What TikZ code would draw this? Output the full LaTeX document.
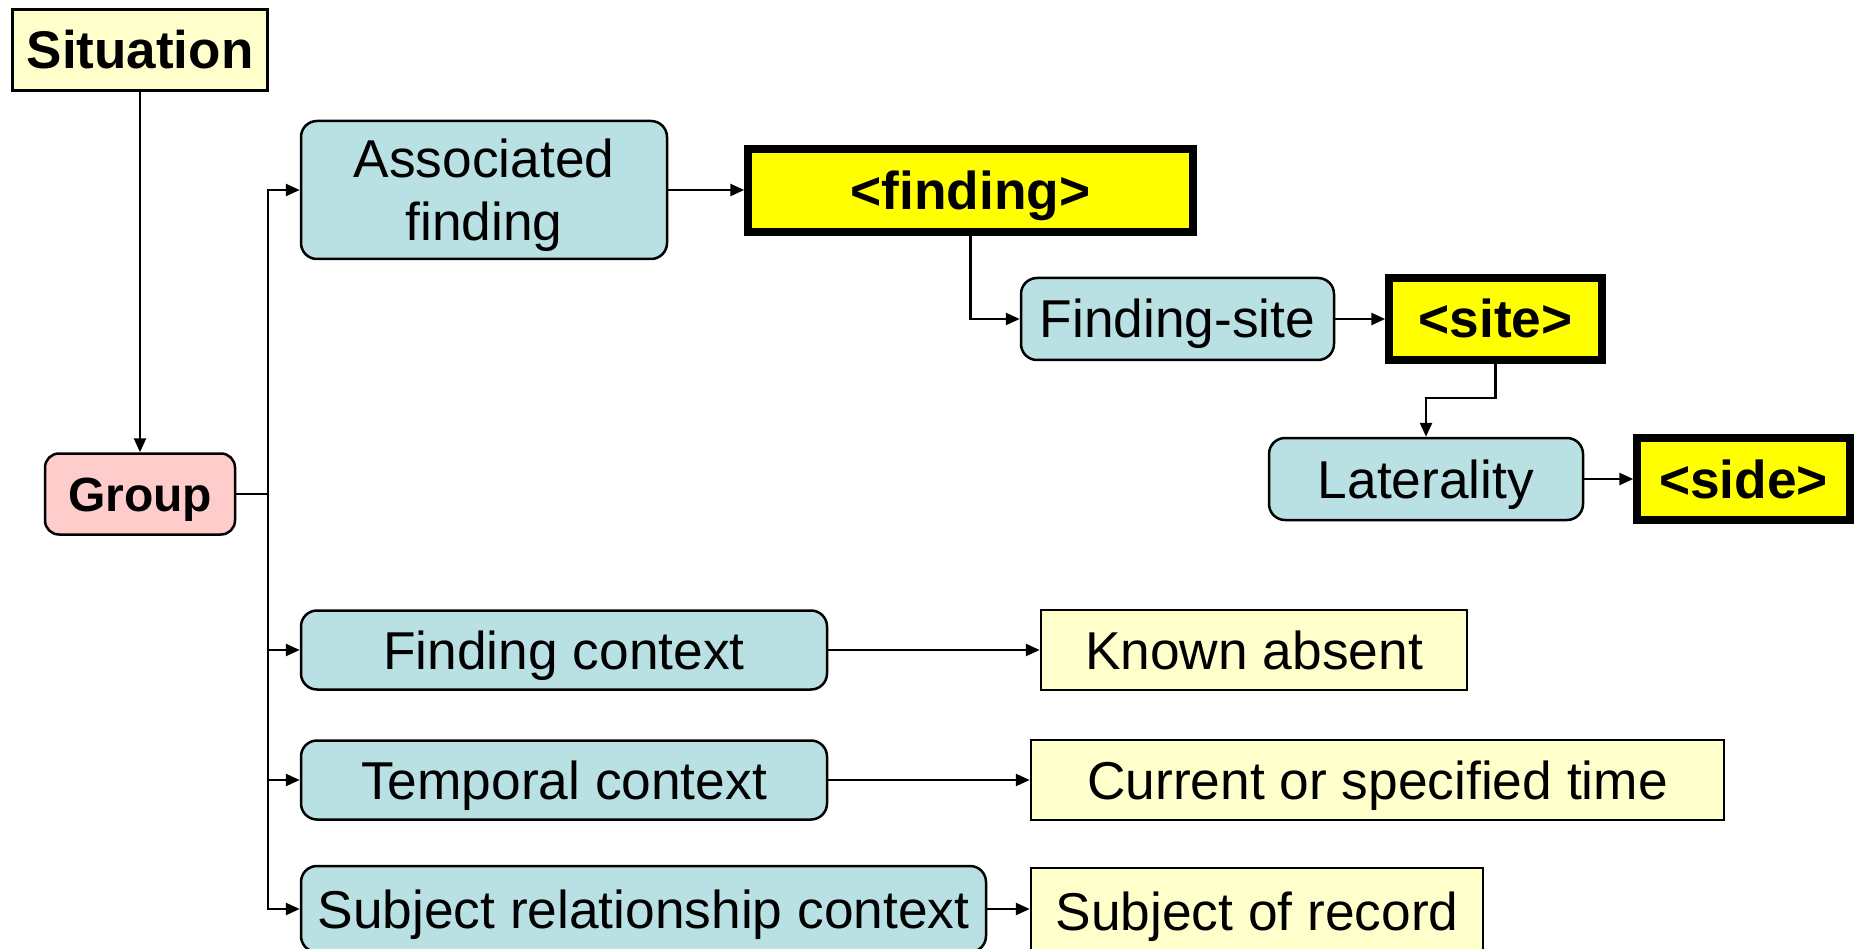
\documentclass[tikz,border=0pt]{standalone}
\usepackage{fontspec}
\setmainfont{Liberation Sans}
\usetikzlibrary{arrows.meta}
\definecolor{pale}{HTML}{FFFFCC}
\definecolor{pinkbox}{HTML}{FFCCCC}
\definecolor{bluebox}{HTML}{B9E0E3}
\definecolor{yel}{HTML}{FFFF00}
\begin{document}
\begin{tikzpicture}[x=1pt,y=-1pt,
  box/.style={draw=black, line width=2.5pt, inner sep=0pt, text=black,
    font=\fontsize{53.3}{63}\selectfont, text height=38pt, text depth=0pt},
  rbox/.style={box, rounded corners=16pt, fill=bluebox},
  valbox/.style={box, fill=pale},
  keybox/.style={box, fill=yel, line width=7.5pt, font=\fontsize{53.3}{63}\selectfont\bfseries},
  conn/.style={line width=2.5pt, -{Triangle[length=14pt,width=12pt]}},
  plain/.style={line width=2.5pt}
]
\useasboundingbox (0,0) rectangle (1860,949);
\clip (0,0) rectangle (1860,949);

\node[valbox, font=\fontsize{53}{63}\selectfont\bfseries, minimum width=255pt, minimum height=81pt] (sit) at (140,50) {Situation};
\node[box, fill=pinkbox, rounded corners=14pt, font=\fontsize{48}{57}\selectfont\bfseries, text height=34pt, minimum width=190pt, minimum height=81pt] (grp) at (140,494) {Group};
\node[rbox, align=center, text height=, text depth=0pt, minimum width=366pt, minimum height=138pt] (assoc) at (484,190) {Associated\\finding};
\node[keybox, minimum width=445pt, minimum height=83pt] (find) at (970.5,190.5) {<finding>};
\node[rbox, minimum width=313pt, minimum height=82pt] (fsite) at (1177.5,319) {Finding-site};
\node[keybox, minimum width=213pt, minimum height=82pt] (site) at (1495.5,319) {<site>};
\node[rbox, minimum width=314pt, minimum height=82pt] (lat) at (1426,479) {Laterality};
\node[keybox, minimum width=213pt, minimum height=82pt] (side) at (1743.5,479) {<side>};
\node[rbox, minimum width=526pt, minimum height=79pt] (fctx) at (564,650) {Finding context};
\node[valbox, minimum width=426pt, minimum height=80pt] (known) at (1254,650) {Known absent};
\node[rbox, minimum width=526pt, minimum height=79pt] (tctx) at (564,780) {Temporal context};
\node[valbox, minimum width=693pt, minimum height=80pt] (curr) at (1377.5,780) {Current or specified time};
\node[rbox, minimum width=685pt, minimum height=86pt] (srctx) at (643.5,909) {Subject relationship context};
\node[valbox, minimum width=452pt, minimum height=86pt] (subj) at (1257,911) {Subject of record};

\coordinate (tr) at (268,494);
\draw[conn] (sit) -- (grp);
\draw[plain] (grp.east) -- (tr);
\draw[conn] (tr) |- (assoc.west);
\draw[conn] (tr) |- (fctx.west);
\draw[conn] (tr) |- (tctx.west);
\draw[conn] (tr) |- (srctx.west);
\draw[conn] (assoc.east) -- (assoc.east -| find.west);
\draw[conn] (find.south) |- (fsite.west);
\draw[conn] (fsite.east) -- (site.west);
\draw[conn] (site.south) -- ++(0,34) -| (lat.north);
\draw[conn] (lat.east) -- (side.west);
\draw[conn] (fctx.east) -- (known.west);
\draw[conn] (tctx.east) -- (curr.west);
\draw[conn] (srctx.east) -- (srctx.east -| subj.west);
\end{tikzpicture}
\end{document}
